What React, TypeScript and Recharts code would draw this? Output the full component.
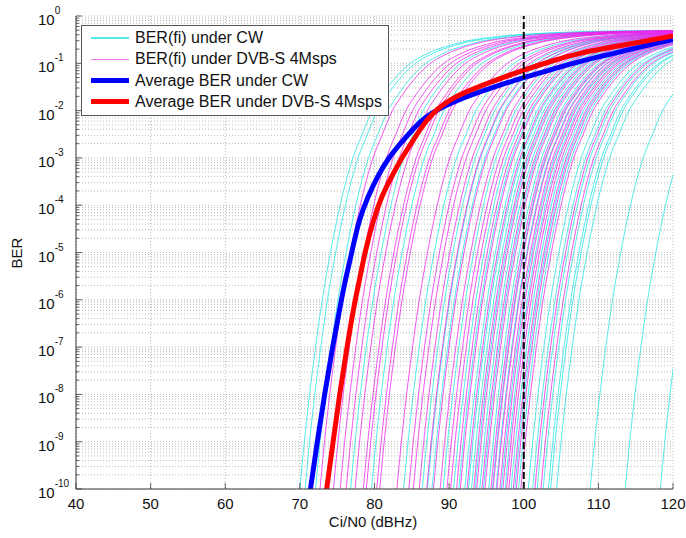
import React from 'react';
import { LineChart, Line, XAxis, YAxis, CartesianGrid, ReferenceLine } from 'recharts';

// ---- axis values ----
const xTicks = [40, 50, 60, 70, 80, 90, 100, 110, 120];
const yDecadeExponents = [-10, -9, -8, -7, -6, -5, -4, -3, -2, -1, 0];
const yMinorMultipliers = [2, 3, 4, 5, 6, 7, 8, 9];
const markerX = 100;

// ---- shared BER(fi) curve shape: offset (dB) from the 1e-10 crossing vs BER ----
const curveDelta = [-0.6, 0, 0.6, 1.3, 2.1, 3.0, 4.1, 5.4, 7.1, 8.3, 9.7, 10.9, 11.8, 14.8, 16.7, 18.5, 20.5, 22.5, 25.4, 29, 32.2, 37, 43, 55];
const curveBer = [1e-11, 1e-10, 1e-9, 1e-8, 1e-7, 1e-6, 1e-5, 1e-4, 1e-3, 3e-3, 1e-2, 0.02, 0.0316, 0.1, 0.15, 0.2, 0.25, 0.3, 0.35, 0.4, 0.43, 0.46, 0.48, 0.49];

// ---- where each BER(fi) curve crosses 1e-10 (dBHz) ----
const cwCrossings = [70.0, 70.7, 72.1, 76.8, 79.6, 83.9, 86.4, 87.1, 87.7, 89.2, 90.6, 91.3, 92.1, 92.6, 93.0, 93.5, 94.1, 94.6, 95.3, 95.8, 96.3, 97.0, 97.5, 98.3, 98.8, 99.3, 100.6, 101.2, 101.8, 102.6, 103.3, 103.6, 104.4, 108.9, 113.6, 118.3];
const dvbCrossings = [72.7, 74.5, 75.4, 76.2, 77.4, 78.5, 78.9, 80.3, 80.7, 83.0, 84.6, 85.2, 86.0, 87.0, 87.9, 88.8, 89.7, 90.2, 91.0, 91.5, 92.4, 93.3, 93.7, 94.4, 94.8, 95.6, 95.9, 96.4, 96.8, 97.2, 97.7, 98.0, 98.6, 99.0, 99.6, 101.5, 102.3];

// ---- average curves ----
const avgCwX = [70.5, 71.42, 72.33, 73.31, 74.37, 75.56, 76.1, 76.96, 77.9, 79.15, 80.4, 81.85, 83.86, 86.1, 87.6, 89.7, 92.0, 96.0, 100.0, 104.0, 107.5, 111.0, 114.2, 117.0, 120.0];
const avgCwBer = [1e-11, 1e-10, 1e-9, 1e-8, 1e-7, 1e-6, 2.66e-6, 1e-5, 4.9e-5, 1.55e-4, 4.07e-4, 1e-3, 2.4e-3, 5.9e-3, 8.9e-3, 0.0132, 0.019, 0.0316, 0.05, 0.076, 0.11, 0.148, 0.195, 0.25, 0.32];
const avgDvbX = [72.7, 73.6, 74.45, 75.32, 76.3, 77.4, 78.0, 78.7, 79.84, 80.96, 82.3, 83.64, 85.2, 87.0, 88.5, 90.0, 92.0, 95.5, 100.0, 104.0, 107.5, 111.0, 114.2, 117.0, 120.0];
const avgDvbBer = [1e-11, 1e-10, 1e-9, 1e-8, 1e-7, 1e-6, 2.66e-6, 1e-5, 4.9e-5, 1.55e-4, 4.07e-4, 1e-3, 2.4e-3, 6.46e-3, 0.0112, 0.0166, 0.024, 0.0398, 0.0724, 0.115, 0.166, 0.209, 0.257, 0.309, 0.38];

const legendLabels = ['BER(fi) under CW', 'BER(fi) under DVB-S 4Msps', 'Average BER under CW', 'Average BER under DVB-S 4Msps'];

// ---- derived tables for the library ----
const yAllTicks: number[] = [];
yDecadeExponents.forEach((e) => {
  yAllTicks.push(Math.pow(10, e));
  if (e < 0) yMinorMultipliers.forEach((m) => yAllTicks.push(m * Math.pow(10, e)));
});
yAllTicks.sort((a, b) => a - b);

const buildCurve = (x0: number) => curveDelta.map((d, i) => ({ x: x0 + d, y: curveBer[i] }));
const cwSeries = cwCrossings.map(buildCurve);
const dvbSeries = dvbCrossings.map(buildCurve);
const avgCw = avgCwX.map((x, i) => ({ x, y: avgCwBer[i] }));
const avgDvb = avgDvbX.map((x, i) => ({ x, y: avgDvbBer[i] }));

const FONT = '"Liberation Sans", Arial, Helvetica, sans-serif';
const AXIS = '#3a3a3a';

const isMajor = (v: number) => {
  const e = Math.round(Math.log10(v));
  return Math.abs(v - Math.pow(10, e)) / Math.pow(10, e) < 1e-6;
};

const LeftTick = (props: any) => {
  const { x, y, payload } = props;
  const v = payload.value;
  const major = isMajor(v);
  const e = Math.round(Math.log10(v));
  return (
    <g>
      <line x1={x} y1={y} x2={x + (major ? 6 : 3)} y2={y} stroke={AXIS} strokeWidth={0.8} />
      {major && (
        <text x={x - 38} y={y + 9} fontFamily={FONT} fontSize={15} fill="#111">
          10
          <tspan dy={-11} fontSize={10}>{e}</tspan>
        </text>
      )}
    </g>
  );
};

const RightTick = (props: any) => {
  const { x, y, payload } = props;
  const major = isMajor(payload.value);
  return <line x1={x} y1={y} x2={x - (major ? 6 : 3)} y2={y} stroke={AXIS} strokeWidth={0.8} />;
};

const BottomTick = (props: any) => {
  const { x, y, payload } = props;
  return (
    <g>
      <line x1={x} y1={y} x2={x} y2={y - 6} stroke={AXIS} strokeWidth={0.8} />
      <text x={x} y={y + 20} textAnchor="middle" fontFamily={FONT} fontSize={15} fill="#111">
        {payload.value}
      </text>
    </g>
  );
};

const TopTick = (props: any) => {
  const { x, y } = props;
  return <line x1={x} y1={y} x2={x} y2={y + 6} stroke={AXIS} strokeWidth={0.8} />;
};

const legendStyles = [
  { color: '#55eaea', width: 1.5 },
  { color: '#f07af0', width: 1.5 },
  { color: '#0000ff', width: 5 },
  { color: '#ff0000', width: 5 },
];

export default function App() {
  return (
    <div style={{ position: 'fixed', left: 0, top: 0, width: 686, height: 538, background: '#fff' }}>
      <LineChart width={686} height={538} margin={{ top: 16, right: 13, bottom: 0, left: 0 }}>
        <CartesianGrid stroke="#9a9a9a" strokeWidth={0.7} strokeDasharray="1 2" />
        <XAxis
          dataKey="x"
          type="number"
          domain={[40, 120]}
          ticks={xTicks}
          interval={0}
          allowDataOverflow
          height={49}
          tickSize={0}
          tickMargin={0}
          tickLine={false}
          axisLine={{ stroke: AXIS }}
          tick={<BottomTick />}
        />
        <XAxis
          xAxisId="top"
          orientation="top"
          type="number"
          domain={[40, 120]}
          ticks={xTicks}
          interval={0}
          allowDataOverflow
          height={0}
          tickSize={0}
          tickMargin={0}
          tickLine={false}
          axisLine={{ stroke: AXIS }}
          tick={<TopTick />}
        />
        <YAxis
          type="number"
          scale="log"
          domain={[1e-10, 1]}
          ticks={yAllTicks}
          interval={0}
          allowDataOverflow
          width={76}
          tickSize={0}
          tickMargin={0}
          tickLine={false}
          axisLine={{ stroke: AXIS }}
          tick={<LeftTick />}
        />
        <YAxis
          yAxisId="right"
          orientation="right"
          type="number"
          scale="log"
          domain={[1e-10, 1]}
          ticks={yAllTicks}
          interval={0}
          allowDataOverflow
          width={0}
          tickSize={0}
          tickMargin={0}
          tickLine={false}
          axisLine={{ stroke: AXIS }}
          tick={<RightTick />}
        />
        {cwSeries.map((d, i) => (
          <Line
            key={'cw' + i}
            data={d}
            dataKey="y"
            type="monotone"
            stroke="#2ee6e6"
            strokeWidth={0.9}
            strokeOpacity={0.9}
            dot={false}
            activeDot={false}
            isAnimationActive={false}
          />
        ))}
        {dvbSeries.map((d, i) => (
          <Line
            key={'dvb' + i}
            data={d}
            dataKey="y"
            type="monotone"
            stroke="#ee22ee"
            strokeWidth={0.9}
            strokeOpacity={0.85}
            dot={false}
            activeDot={false}
            isAnimationActive={false}
          />
        ))}
        <Line data={avgCw} dataKey="y" type="basis" stroke="#0000ff" strokeWidth={5} dot={false} activeDot={false} isAnimationActive={false} />
        <Line data={avgDvb} dataKey="y" type="basis" stroke="#ff0000" strokeWidth={5} dot={false} activeDot={false} isAnimationActive={false} />
        <ReferenceLine x={markerX} stroke="#000" strokeWidth={2} strokeDasharray="7 3" />
      </LineChart>

      <div
        style={{
          position: 'absolute',
          left: 81,
          top: 25,
          width: 306,
          height: 89,
          border: '1px solid #555',
          background: '#fff',
          fontFamily: FONT,
          fontSize: 16,
          color: '#111',
        }}
      >
        {legendLabels.map((label, i) => (
          <div key={label} style={{ position: 'absolute', left: 0, top: 2 + i * 21.3, height: 20, width: 306 }}>
            <div
              style={{
                position: 'absolute',
                left: 9,
                top: 10 - legendStyles[i].width / 2,
                width: 38,
                height: legendStyles[i].width,
                background: legendStyles[i].color,
              }}
            />
            <div style={{ position: 'absolute', left: 53, top: 0, lineHeight: '20px', whiteSpace: 'nowrap' }}>{label}</div>
          </div>
        ))}
      </div>

      <div
        style={{
          position: 'absolute',
          left: 273,
          top: 513,
          width: 200,
          textAlign: 'center',
          fontFamily: FONT,
          fontSize: 15,
          lineHeight: '18px',
          color: '#111',
        }}
      >
        Ci/N0 (dBHz)
      </div>
      <div
        style={{
          position: 'absolute',
          left: -13,
          top: 244,
          width: 60,
          textAlign: 'center',
          fontFamily: FONT,
          fontSize: 15,
          lineHeight: '18px',
          color: '#111',
          transform: 'rotate(-90deg)',
        }}
      >
        BER
      </div>
    </div>
  );
}
